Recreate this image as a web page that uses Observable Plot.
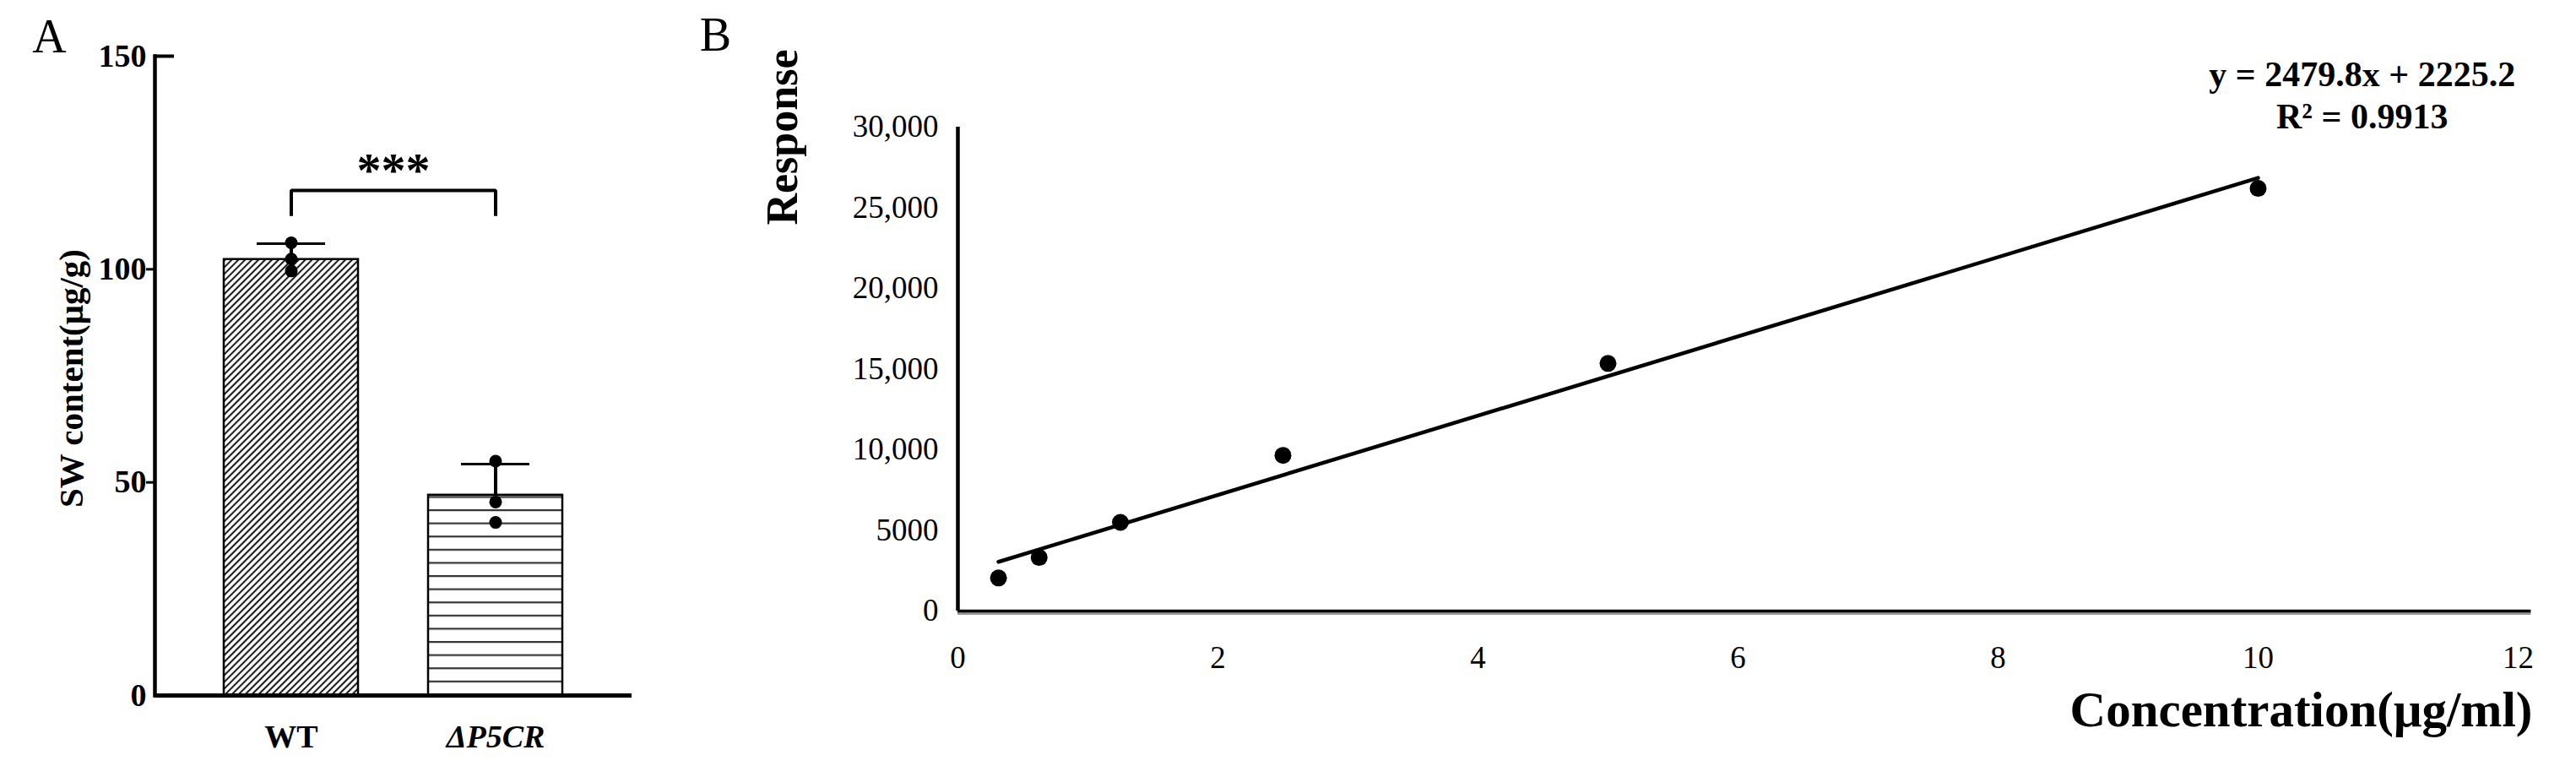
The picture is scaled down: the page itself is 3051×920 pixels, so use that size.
<!DOCTYPE html>
<html>
<head>
<meta charset="utf-8">
<script src="https://cdn.jsdelivr.net/npm/d3@7"></script>
<script src="https://cdn.jsdelivr.net/npm/@observablehq/plot@0.6"></script>
<style>
  body { margin: 0; background: #fff; }
  #wrap { position: relative; width: 3051px; height: 920px; background: #fff; }
  #a { position: absolute; left: 0; top: 0; }
  #b { position: absolute; left: 760px; top: 0; }
</style>
</head>
<body>
<div id="wrap"><div id="a"></div><div id="b"></div></div>
<script>
// ---------- Panel A data ----------
const groups = ["WT", "ΔP5CR"];
const groupMeans = [102.3, 47.0];
const groupUpperSD = [3.7, 7.3];
const wtReplicates = [106.2, 102.4, 99.6];
const koReplicates = [55.0, 45.4, 40.6];
const yTicksA = [0, 50, 100, 150];
const bracketLow = 112.5;
const bracketHigh = 118.5;
const sigLabel = "***";
const sigY = 123;

// ---------- Panel B data ----------
const concentration = [0.3125, 0.625, 1.25, 2.5, 5, 10];
const response = [2050, 3320, 5500, 9650, 15350, 26200];
const xTicksB = [0, 2, 4, 6, 8, 10, 12];
const yTicksB = [0, 5000, 10000, 15000, 20000, 25000, 30000];
const yTickLabelsB = ["0", "5000", "10,000", "15,000", "20,000", "25,000", "30,000"];
const equationLines = ["y = 2479.8x + 2225.2", "R² = 0.9913"];
const equationY = [33250, 30630];
const equationX = 10.8;

const FONT = "'Liberation Serif', 'Times New Roman', serif";

// tables
const bars = groups.map((g, i) => ({group: g, mean: groupMeans[i], top: groupMeans[i] + groupUpperSD[i]}));
const reps = [
  ...wtReplicates.map(v => ({group: groups[0], value: v})),
  ...koReplicates.map(v => ({group: groups[1], value: v}))
];
const bracket = [
  {group: groups[0], v: bracketLow},
  {group: groups[0], v: bracketHigh},
  {group: groups[1], v: bracketHigh},
  {group: groups[1], v: bracketLow}
];
const std = concentration.map((c, i) => ({conc: c, resp: response[i]}));
const eq = equationLines.map((t, i) => ({t, y: equationY[i]}));

const mid = {textAnchor: "middle", lineAnchor: "middle"};

// ---------- Panel A ----------
const A = Plot.plot({
  width: 760, height: 920,
  marginLeft: 183, marginRight: 12, marginTop: 66, marginBottom: 97,
  style: {fontFamily: FONT, fontSize: "38px", background: "white", color: "black"},
  x: {domain: groups, paddingInner: 0.344, paddingOuter: 0.338, axis: null},
  y: {domain: [0, 150], axis: null},
  marks: [
    Plot.barY(bars.filter(d => d.group === groups[0]), {x: "group", y: "mean", fill: "url(#hatchWT)", stroke: "black", strokeWidth: 2.5}),
    Plot.barY(bars.filter(d => d.group === groups[1]), {x: "group", y: "mean", fill: "url(#hatchKO)", stroke: "black", strokeWidth: 2.5}),
    Plot.ruleX(bars, {x: "group", y1: "mean", y2: "top", stroke: "black", strokeWidth: 4}),
    Plot.tickY(bars, {x: "group", y: "top", stroke: "black", strokeWidth: 3, inset: 39}),
    Plot.dot(reps, {x: "group", y: "value", r: 7.5, fill: "black"}),
    Plot.line(bracket, {x: "group", y: "v", stroke: "black", strokeWidth: 4, strokeLinejoin: "miter", strokeLinecap: "butt"}),
    Plot.text([sigLabel], {y: () => sigY, text: d => d, fontSize: 58, fontWeight: "bold", ...mid}),
    Plot.ruleY([0], {stroke: "black", strokeWidth: 5}),
    Plot.frame({anchor: "left", stroke: "black", strokeWidth: 4.5}),
    Plot.axisY({ticks: yTicksA, tickSize: 0, tickPadding: 10, fontSize: 38, fontWeight: "bold", label: null}),
    Plot.axisY({ticks: [50, 100], tickSize: 10, fill: "none", stroke: "black", strokeWidth: 3, label: null}),
    Plot.axisY({ticks: [150], tickSize: 23, dx: 23, fill: "none", stroke: "black", strokeWidth: 4, label: null}),
    Plot.text([groups[0]], {x: d => d, text: d => d, frameAnchor: "bottom", dy: 49, fontSize: 38, fontWeight: "bold", ...mid}),
    Plot.text([groups[1]], {x: d => d, text: d => d, frameAnchor: "bottom", dy: 49, fontSize: 38, fontWeight: "bold", fontStyle: "italic", ...mid}),
    Plot.text(["SW content(μg/g)"], {text: d => d, frameAnchor: "left", rotate: -90, dx: -99, dy: 3, fontSize: 41, fontWeight: "bold", ...mid}),
    Plot.text(["A"], {text: d => d, frameAnchor: "top-left", dx: -125, dy: -22, fontSize: 56, fontWeight: "normal", ...mid})
  ]
});
d3.select(A).insert("defs", ":first-child").html(`
  <pattern id="hatchWT" patternUnits="userSpaceOnUse" width="5.6" height="5.6" patternTransform="rotate(45)">
    <rect width="5.6" height="5.6" fill="white"/>
    <line x1="2.8" y1="0" x2="2.8" y2="5.6" stroke="#1a1a1a" stroke-width="2.1"/>
  </pattern>
  <pattern id="hatchKO" patternUnits="userSpaceOnUse" x="0" y="603" width="40" height="15.6">
    <rect width="40" height="15.6" fill="white"/>
    <line x1="0" y1="1" x2="40" y2="1" stroke="#333" stroke-width="2.2"/>
  </pattern>`);
document.getElementById("a").append(A);

// ---------- Panel B ----------
const B = Plot.plot({
  width: 2291, height: 920,
  marginLeft: 374, marginRight: 69, marginTop: 150, marginBottom: 197,
  style: {fontFamily: FONT, fontSize: "36px", background: "white", color: "black"},
  x: {domain: [0, 12], axis: null},
  y: {domain: [0, 30000], axis: null},
  marks: [
    Plot.ruleY([0], {x1: 0, x2: 12.1, stroke: "#999", strokeWidth: 3, dy: 3}),
    Plot.ruleY([0], {x1: 0, x2: 12.1, stroke: "black", strokeWidth: 3.5}),
    Plot.ruleX([0], {y1: 0, y2: 30000, stroke: "black", strokeWidth: 4.5}),
    Plot.linearRegressionY(std, {x: "conc", y: "resp", stroke: "black", strokeWidth: 4.5, ci: 0}),
    Plot.dot(std, {x: "conc", y: "resp", r: 10, fill: "black"}),
    Plot.axisY({ticks: yTicksB, tickFormat: d => yTickLabelsB[yTicksB.indexOf(d)], tickSize: 0, tickPadding: 23, fontSize: 37, label: null}),
    Plot.axisX({ticks: xTicksB, tickSize: 0, tickPadding: 41, fontSize: 37, label: null}),
    Plot.text(["Response"], {text: d => d, frameAnchor: "top-left", rotate: -90, dx: -207, dy: 12, fontSize: 52, fontWeight: "bold", ...mid}),
    Plot.text(["Concentration(μg/ml)"], {text: d => d, frameAnchor: "bottom-right", textAnchor: "end", lineAnchor: "middle", dx: 17, dy: 118, fontSize: 59, fontWeight: "bold"}),
    Plot.text(eq, {x: () => equationX, y: "y", text: "t", fontSize: 42, fontWeight: "bold", ...mid}),
    Plot.text(["B"], {text: d => d, frameAnchor: "top-left", dx: -287, dy: -108, fontSize: 56, fontWeight: "normal", ...mid})
  ]
});
document.getElementById("b").append(B);
</script>
</body>
</html>
